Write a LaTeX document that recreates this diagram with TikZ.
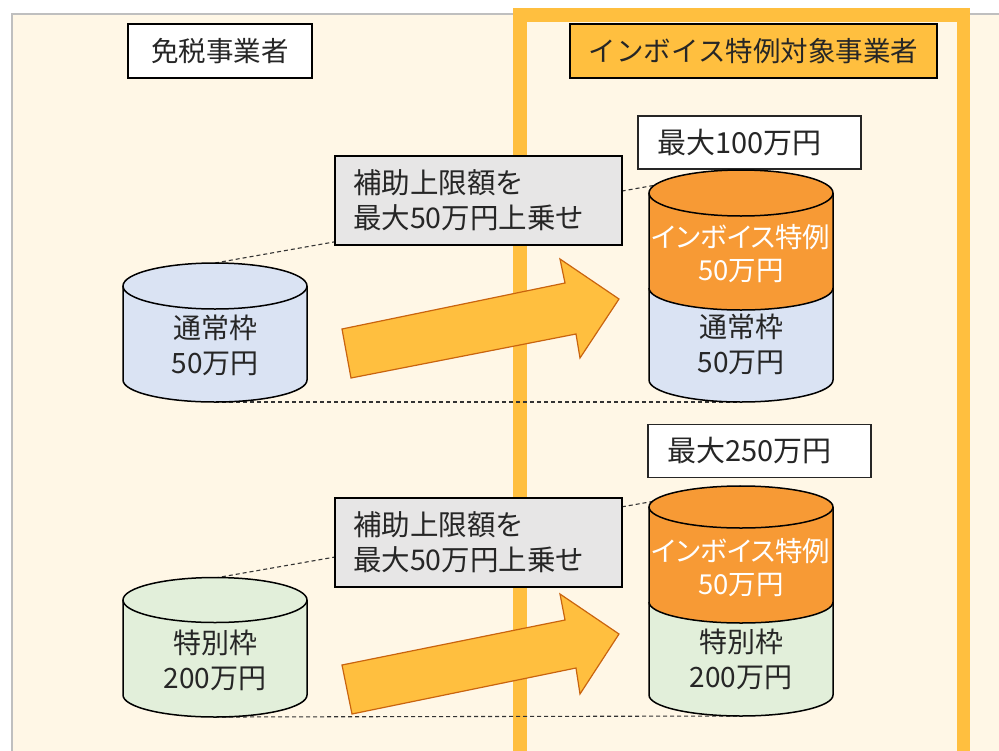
\documentclass[tikz,border=0pt]{standalone}
\usepackage{fontspec}
\setmainfont{Noto Sans CJK JP}
\newfontfamily\paltfont{Noto Sans CJK JP}[RawFeature=+palt]
\definecolor{bgcream}{HTML}{FFF7E6}
\definecolor{frameorange}{HTML}{FFBF3F}
\definecolor{cylorange}{HTML}{F79A35}
\definecolor{cylblue}{HTML}{DAE3F3}
\definecolor{cylgreen}{HTML}{E2EFDA}
\definecolor{boxgray}{HTML}{E7E6E6}
\definecolor{arrowline}{HTML}{C9640F}
\definecolor{bordergray}{HTML}{BFBFBF}
\definecolor{txt}{HTML}{262626}
\begin{document}
\begin{tikzpicture}[x=1pt,y=-1pt,
  font=\fontsize{28}{35}\selectfont, text=txt,
  hdrbox/.style={draw=black, line width=1.5pt, minimum height=54pt, inner sep=0pt, font=\fontsize{27.5}{33}\selectfont},
  notebox/.style={draw=black, line width=1.5pt, fill=boxgray, minimum height=89pt, text width=251pt, inner xsep=18pt, inner ysep=0pt, align=left, font=\fontsize{28.5}{35}\selectfont},
  maxbox/.style={draw=black!85, line width=1.2pt, fill=white, minimum height=53pt, text width=185pt, inner xsep=19pt, inner ysep=0pt, align=left, font=\fontsize{29}{35}\selectfont},
  guide/.style={black!80, line width=1.1pt, dash pattern=on 4pt off 3pt},
  cylline/.style={draw=black, line width=1.5pt},
  blockarrow/.style={fill=frameorange, draw=arrowline, line width=1.2pt, line join=miter},
  cyltext/.style={align=center, inner sep=0pt},
  orangetext/.style={align=center, inner sep=0pt, text=white, font=\paltfont\fontsize{27.5}{33}\selectfont}
]
\useasboundingbox (0,0) rectangle (999,750);
\clip (0,0) rectangle (999,750);
\fill[white] (0,0) rectangle (999,750);
\fill[bgcream] (12,14) rectangle (1005,760);
\draw[bordergray, line width=1.5pt] (12,760) -- (12,14) -- (1005,14);
\draw[frameorange, line width=13.5pt] (520,15) rectangle (963.5,775);

% named coordinates at cylinder tops / bottoms
\coordinate (c1top) at (215,263);
\coordinate (c1bot) at (215,402);
\coordinate (c2top) at (741,170);
\coordinate (c2bot) at (741,402);
\coordinate (c3top) at (215,578);
\coordinate (c3bot) at (215,717);
\coordinate (c4top) at (741,486);
\coordinate (c4bot) at (741,716);

% dashed guide lines
\draw[guide] (c1top) -- (c2top);
\draw[guide] (c1bot) -- (c2bot);
\draw[guide] (c3top) -- (c4top);
\draw[guide] (c3bot) -- (c4bot);

% header boxes
\node[hdrbox, fill=white, minimum width=184pt] (hdrL) at (220,51) {免税事業者};
\node[hdrbox, fill=frameorange, minimum width=367pt] (hdrR) at (753.5,51) {インボイス特例対象事業者};

% note boxes
\node[notebox] (note1) at (478.5,200.5) {補助上限額を\\最大50万円上乗せ};
\node[notebox] (note2) at (478.5,542.5) {補助上限額を\\最大50万円上乗せ};

% max boxes
\node[maxbox] (max1) at (749.5,142.5) {最大100万円};
\node[maxbox] (max2) at (759.5,451) {最大250万円};

% ---- cylinder 1 (left top, blue)
\path[fill=cylblue] (123,286) -- (123,380) arc[start angle=180,end angle=360,x radius=92pt,y radius=22pt] -- (307,286) arc[start angle=0,end angle=180,x radius=92pt,y radius=23pt] -- cycle;
\draw[cylline] (123,286) -- (123,380) arc[start angle=180,end angle=360,x radius=92pt,y radius=22pt] -- (307,286);
\draw[cylline] (215,286) ellipse[x radius=92pt,y radius=23pt];

% ---- cylinder 2 (right top, orange + blue)
\path[fill=cylblue] (649,288) -- (649,380) arc[start angle=180,end angle=360,x radius=92pt,y radius=22pt] -- (833,288) -- cycle;
\path[fill=cylorange] (649,193) -- (649,288) arc[start angle=180,end angle=360,x radius=92pt,y radius=22pt] -- (833,193) arc[start angle=0,end angle=180,x radius=92pt,y radius=23pt] -- cycle;
\draw[cylline] (649,193) -- (649,380) arc[start angle=180,end angle=360,x radius=92pt,y radius=22pt] -- (833,193);
\draw[cylline] (649,288) arc[start angle=180,end angle=360,x radius=92pt,y radius=22pt];
\draw[cylline] (741,193) ellipse[x radius=92pt,y radius=23pt];

% ---- cylinder 3 (left bottom, green)
\path[fill=cylgreen] (123,600) -- (123,695) arc[start angle=180,end angle=360,x radius=92pt,y radius=22pt] -- (307,600) arc[start angle=0,end angle=180,x radius=92pt,y radius=22.5pt] -- cycle;
\draw[cylline] (123,600) -- (123,695) arc[start angle=180,end angle=360,x radius=92pt,y radius=22pt] -- (307,600);
\draw[cylline] (215,600) ellipse[x radius=92pt,y radius=22.5pt];

% ---- cylinder 4 (right bottom, orange + green)
\path[fill=cylgreen] (649,602) -- (649,695) arc[start angle=180,end angle=360,x radius=92pt,y radius=21pt] -- (833,602) -- cycle;
\path[fill=cylorange] (649,507) -- (649,602) arc[start angle=180,end angle=360,x radius=92pt,y radius=21pt] -- (833,507) arc[start angle=0,end angle=180,x radius=92pt,y radius=21pt] -- cycle;
\draw[cylline] (649,507) -- (649,695) arc[start angle=180,end angle=360,x radius=92pt,y radius=21pt] -- (833,507);
\draw[cylline] (649,602) arc[start angle=180,end angle=360,x radius=92pt,y radius=21pt];
\draw[cylline] (741,507) ellipse[x radius=92pt,y radius=21pt];

% cylinder texts
\node[cyltext] (t1) at (215,345) {通常枠\\50万円};
\node[orangetext] (t2a) at (741,254) {インボイス特例\\50万円};
\node[cyltext] (t2b) at (741,344) {通常枠\\50万円};
\node[cyltext] (t3) at (215,660) {特別枠\\200万円};
\node[orangetext] (t4a) at (741,568) {インボイス特例\\50万円};
\node[cyltext] (t4b) at (741,659) {特別枠\\200万円};

% block arrows
\path[blockarrow] (342,329) -- (565,283) -- (560,259) -- (619,299) -- (580,358) -- (576,334) -- (351,378) -- cycle;
\path[blockarrow] (342,665) -- (565,620) -- (560,594) -- (619,634) -- (580,694) -- (576,668) -- (352,714) -- cycle;
\end{tikzpicture}
\end{document}
